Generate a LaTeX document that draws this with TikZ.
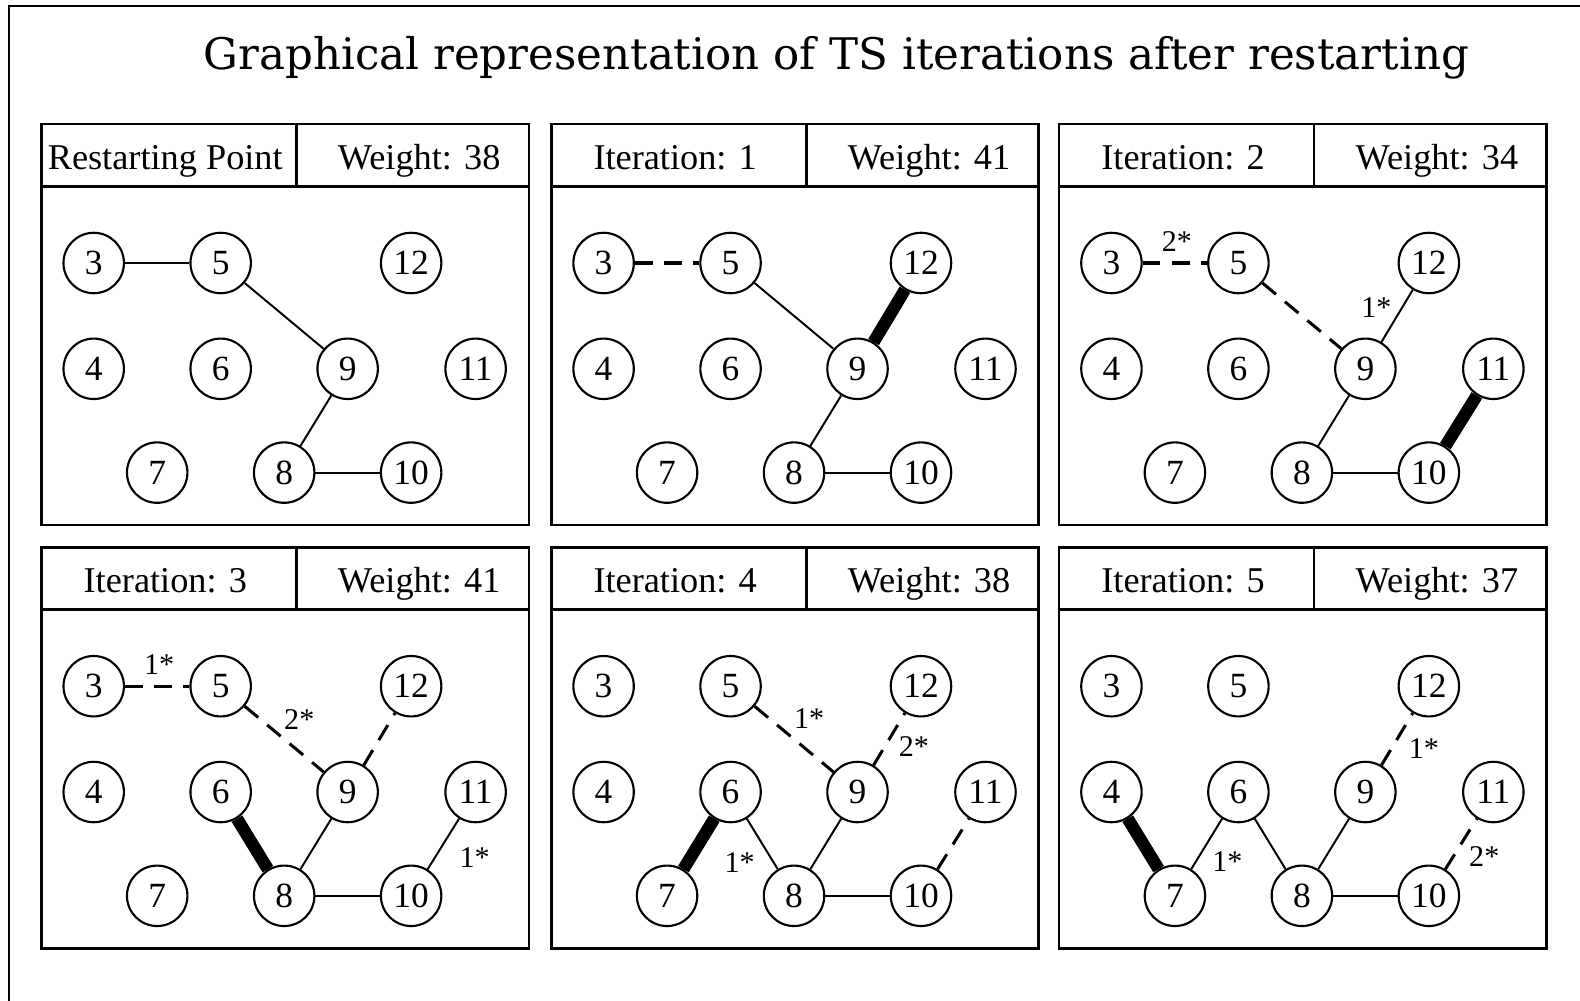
\documentclass[tikz,border=0pt]{standalone}
\usepackage{fontspec}
\setmainfont{Liberation Serif}
\newfontfamily\titlefont{DejaVu Serif}

\tikzset{
  vertex/.style={circle, draw, line width=1.2pt, minimum size=1.2cm, inner sep=0pt,
                 font=\fontsize{20}{20}\selectfont},
  headtext/.style={inner sep=0pt, anchor=base, font=\fontsize{20.5}{24}\selectfont},
  steplabel/.style={inner sep=0pt, font=\fontsize{17}{17}\selectfont},
  box/.style={line width=1.6pt},
  edge/.style={line width=1.1pt},
  tabu/.style={line width=1.7pt, dash pattern=on 0.35cm off 0.23cm},
  chosen/.style={line width=7pt}
}

% one panel: header row (two cells), body box and the ten vertices
% #1 name prefix, #2/#3 top-left corner, #4/#5 header texts
\newcommand{\tsgraph}[5]{%
  \begin{scope}[shift={(#2,#3)}]
    \draw[box] (0,0) rectangle (484,62);
    \draw[box] (253,0) -- (253,62);
    \draw[box] (0,62) rectangle (484,398);
    \node[headtext] (#1head) at (123,45) {#4};
    \node[headtext] (#1wt) at (375,45) {#5};
    \foreach \n/\x/\y in {3/52/138, 5/178/138, 12/367/138,
                          4/52/243, 6/178/243, 9/304/243, 11/431/243,
                          7/115/346, 8/241/346, 10/367/346}
      \node[vertex] (#1n\n) at (\x,\y) {\n};
  \end{scope}}

\begin{document}
\begin{tikzpicture}[x=0.02cm, y=-0.02cm]

\useasboundingbox (0,0) rectangle (1568,993);

% outer frame (open to the right and bottom)
\draw[line width=1.2pt] (1568,6) -- (9,6) -- (9,993);

\node[anchor=base, font=\titlefont\fontsize{24.6}{28}\selectfont] (title) at (830,69)
  {Graphical representation of TS iterations after restarting};

% ============================================================
%  top row
% ============================================================
\tsgraph{rp}{41}{123}{Restarting Point}{Weight: 38}
\tsgraph{ia}{547}{123}{Iteration: 1}{Weight: 41}
\tsgraph{ib}{1051}{123}{Iteration: 2}{Weight: 34}

% restarting point
\draw[edge] (rpn3) -- (rpn5);
\draw[edge] (rpn5) -- (rpn9);
\draw[edge] (rpn9) -- (rpn8);
\draw[edge] (rpn8) -- (rpn10);

% iteration 1
\draw[tabu] (ian3) -- (ian5);
\draw[edge] (ian5) -- (ian9);
\draw[chosen] (ian9) -- (ian12);
\draw[edge] (ian9) -- (ian8);
\draw[edge] (ian8) -- (ian10);

% iteration 2
\draw[tabu] (ibn3) -- (ibn5);
\draw[tabu] (ibn5) -- (ibn9);
\draw[edge] (ibn9) -- (ibn12);
\draw[edge] (ibn9) -- (ibn8);
\draw[edge] (ibn8) -- (ibn10);
\draw[chosen] (ibn10) -- (ibn11);
\node[steplabel] (ibl1) at (1168,240) {2*};
\node[steplabel] (ibl2) at (1366,305) {1*};

% ============================================================
%  bottom row
% ============================================================
\tsgraph{ic}{41}{543}{Iteration: 3}{Weight: 41}
\tsgraph{id}{547}{543}{Iteration: 4}{Weight: 38}
\tsgraph{ie}{1051}{543}{Iteration: 5}{Weight: 37}

% iteration 3
\draw[tabu] (icn3) -- (icn5);
\draw[tabu] (icn5) -- (icn9);
\draw[tabu] (icn9) -- (icn12);
\draw[chosen] (icn6) -- (icn8);
\draw[edge] (icn9) -- (icn8);
\draw[edge] (icn8) -- (icn10);
\draw[edge] (icn10) -- (icn11);
\node[steplabel] (icl1) at (158,660) {1*};
\node[steplabel] (icl2) at (297,714) {2*};
\node[steplabel] (icl3) at (471,851) {1*};

% iteration 4
\draw[tabu] (idn5) -- (idn9);
\draw[tabu] (idn9) -- (idn12);
\draw[chosen] (idn6) -- (idn7);
\draw[edge] (idn6) -- (idn8);
\draw[edge] (idn9) -- (idn8);
\draw[edge] (idn8) -- (idn10);
\draw[tabu] (idn10) -- (idn11);
\node[steplabel] (idl1) at (803,713) {1*};
\node[steplabel] (idl2) at (907,741) {2*};
\node[steplabel] (idl3) at (734,856) {1*};

% iteration 5
\draw[tabu] (ien9) -- (ien12);
\draw[chosen] (ien4) -- (ien7);
\draw[edge] (ien7) -- (ien6);
\draw[edge] (ien6) -- (ien8);
\draw[edge] (ien9) -- (ien8);
\draw[edge] (ien8) -- (ien10);
\draw[tabu] (ien10) -- (ien11);
\node[steplabel] (iel1) at (1413,743) {1*};
\node[steplabel] (iel2) at (1218,855) {1*};
\node[steplabel] (iel3) at (1473,850) {2*};

\end{tikzpicture}
\end{document}
